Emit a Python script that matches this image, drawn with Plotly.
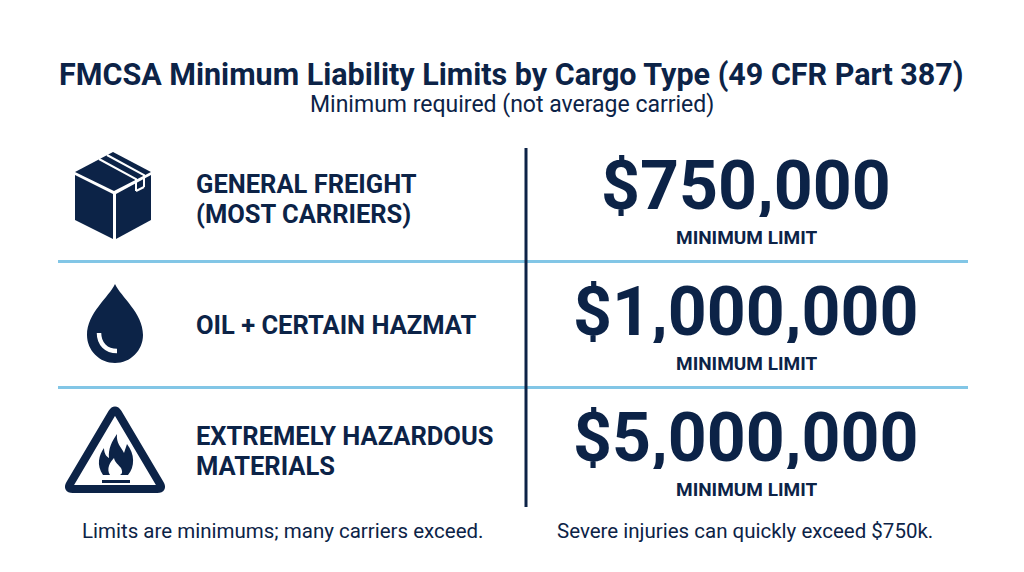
import plotly.graph_objects as go

# data
title = "FMCSA Minimum Liability Limits by Cargo Type (49 CFR Part 387)"
subtitle = "Minimum required (not average carried)"
cargo_types = [["GENERAL FREIGHT", "(MOST CARRIERS)"], ["OIL + CERTAIN HAZMAT"], ["EXTREMELY HAZARDOUS", "MATERIALS"]]
min_limits = [750000, 1000000, 5000000]
limit_label = "MINIMUM LIMIT"
footnotes = ["Limits are minimums; many carriers exceed.", "Severe injuries can quickly exceed $750k."]

NAVY = "#0c2347"
BLUE = "#82c6e6"
W, H = 1024, 572

row_y = [199, 325, 451]
icon_x = 115
label_x = 194
value_x = 746
divider_x = 526
footnote_x = [283, 745]

fig = go.Figure()
shapes = []
annotations = []

# title block
annotations.append(dict(x=W / 2 - 0.5, y=75, text="<b>" + title + "</b>", showarrow=False,
                        font=dict(family="Roboto", size=30.5, color=NAVY)))
annotations.append(dict(x=W / 2, y=104, text=subtitle, showarrow=False,
                        font=dict(family="Roboto", size=23, color=NAVY)))

# grid lines
for y in [(row_y[0] + row_y[1]) / 2 - 0.5, (row_y[1] + row_y[2]) / 2 - 0.5]:
    shapes.append(dict(type="line", x0=58, x1=968, y0=y, y1=y, line=dict(color=BLUE, width=3)))
shapes.append(dict(type="line", x0=divider_x, x1=divider_x, y0=148, y1=507, line=dict(color=NAVY, width=3)))

# rows
for i, (cat, val) in enumerate(zip(cargo_types, min_limits)):
    y = row_y[i]
    n = len(cat)
    for j, line in enumerate(cat):
        ly = y + (j - (n - 1) / 2) * 30
        annotations.append(dict(x=label_x, y=ly, text="<b>" + line + "</b>", showarrow=False, xanchor="left",
                                font=dict(family="Roboto", size=25.5, color=NAVY)))
    annotations.append(dict(x=value_x, y=y - 13, text="<b>${:,}</b>".format(val), showarrow=False,
                            height=62, valign="middle",
                            font=dict(family="Roboto", size=68, color=NAVY)))
    annotations.append(dict(x=value_x, y=y + 38, text="<b>" + limit_label + "</b>", showarrow=False,
                            height=18, valign="middle",
                            font=dict(family="Roboto", size=19, color=NAVY)))

# footnotes
for fx, note in zip(footnote_x, footnotes):
    annotations.append(dict(x=fx, y=531, text=note, showarrow=False,
                            font=dict(family="Roboto", size=20.5, color=NAVY)))

def pt(dx, dy, base_y):
    return "%.1f %.1f" % (icon_x + dx, base_y + dy)

# icon 1: box
y0 = row_y[0]
box_top = "M %s L %s L %s L %s Z" % (pt(-2, -47, y0), pt(36, -27, y0), pt(-1, -8, y0), pt(-40, -27, y0))
box_left = "M %s L %s L %s L %s Z" % (pt(-40, -24, y0), pt(-2, -5, y0), pt(-2, 40, y0), pt(-40, 21, y0))
box_right = "M %s L %s L %s L %s Z" % (pt(1, -5, y0), pt(36, -24, y0), pt(36, 21, y0), pt(1, 40, y0))
for p in [box_top, box_left, box_right]:
    shapes.append(dict(type="path", path=p, fillcolor=NAVY, line=dict(width=0)))
# tape on lid
shapes.append(dict(type="path", path="M %s L %s L %s" % (pt(-16, -40, y0), pt(21, -20, y0), pt(21, -8, y0)),
                   line=dict(color="white", width=2)))
shapes.append(dict(type="path", path="M %s L %s L %s" % (pt(-8, -44, y0), pt(29, -24, y0), pt(29, -12, y0)),
                   line=dict(color="white", width=2)))
shapes.append(dict(type="path", path="M %s L %s" % (pt(21, -8, y0), pt(29, -12, y0)),
                   line=dict(color="white", width=2)))

# icon 2: drop
y1 = row_y[1]
r = 28
k = 0.5523 * r
cy = 10
drop = ("M %s C %s, %s, %s C %s, %s, %s C %s, %s, %s C %s, %s, %s Z" % (
    pt(0, -41, y1),
    pt(-6, -28, y1), pt(-r, -12, y1), pt(-r, cy, y1),
    pt(-r, cy + k, y1), pt(-k, cy + r, y1), pt(0, cy + r, y1),
    pt(k, cy + r, y1), pt(r, cy + k, y1), pt(r, cy, y1),
    pt(r, -12, y1), pt(6, -28, y1), pt(0, -41, y1)))
shapes.append(dict(type="path", path=drop, fillcolor=NAVY, line=dict(width=0)))
r2 = 16
k2 = 0.5523 * r2
hl = "M %s C %s, %s, %s" % (pt(-r2, cy - 2, y1), pt(-r2, cy + k2, y1), pt(-k2, cy + r2, y1), pt(2, cy + r2, y1))
shapes.append(dict(type="path", path=hl, line=dict(color="white", width=4.5)))

# icon 3: hazard triangle (rounded corners) with flame
y2 = row_y[2]
corners = [(0, -43), (48, 38), (-48, 38)]
d = 0.06
segs = []
for c in range(3):
    px, py = corners[c - 1]
    cx_, cy_ = corners[c]
    nx, ny = corners[(c + 1) % 3]
    a = (cx_ + (px - cx_) * d, cy_ + (py - cy_) * d)
    b = (cx_ + (nx - cx_) * d, cy_ + (ny - cy_) * d)
    segs.append((a, (cx_, cy_), b))
tri = "M %s" % pt(*segs[0][0], y2)
for a, cc, b in segs:
    tri += " L %s Q %s, %s" % (pt(*a, y2), pt(*cc, y2), pt(*b, y2))
tri += " Z"
shapes.append(dict(type="path", path=tri, line=dict(color=NAVY, width=8)))
flame = ("M %s C %s, %s, %s C %s, %s, %s C %s, %s, %s C %s, %s, %s C %s, %s, %s C %s, %s, %s Z" % (
    pt(-12, 24, y2),
    pt(-19, 14, y2), pt(-16, 4, y2), pt(-11, -3, y2),
    pt(-11, 3, y2), pt(-8, 6, y2), pt(-6, 7, y2),
    pt(-7, -2, y2), pt(-3, -10, y2), pt(2, -17, y2),
    pt(1, -8, y2), pt(6, -4, y2), pt(9, 2, y2),
    pt(10, -1, y2), pt(11, -4, y2), pt(12, -7, y2),
    pt(20, 3, y2), pt(20, 16, y2), pt(13, 24, y2)))
shapes.append(dict(type="path", path=flame, fillcolor=NAVY, line=dict(width=0)))
inner = ("M %s C %s, %s, %s C %s, %s, %s C %s, %s, %s Z" % (
    pt(-5, 24, y2),
    pt(-9, 18, y2), pt(-5, 11, y2), pt(-1, 7, y2),
    pt(0, 12, y2), pt(4, 14, y2), pt(6, 17, y2),
    pt(8, 21, y2), pt(7, 23, y2), pt(5, 24, y2)))
shapes.append(dict(type="path", path=inner, fillcolor="white", line=dict(width=0)))
shapes.append(dict(type="rect", x0=icon_x - 13, x1=icon_x + 15, y0=y2 + 29, y1=y2 + 32,
                   fillcolor=NAVY, line=dict(width=0)))

fig.update_layout(
    width=W, height=H,
    margin=dict(l=0, r=0, t=0, b=0),
    paper_bgcolor="white", plot_bgcolor="white",
    xaxis=dict(range=[0, W], visible=False, fixedrange=True),
    yaxis=dict(range=[H, 0], visible=False, fixedrange=True),
    shapes=shapes, annotations=annotations,
    showlegend=False,
)
fig.write_html("out.html", config={"displayModeBar": False},
               post_script="document.body.style.margin='0';")
